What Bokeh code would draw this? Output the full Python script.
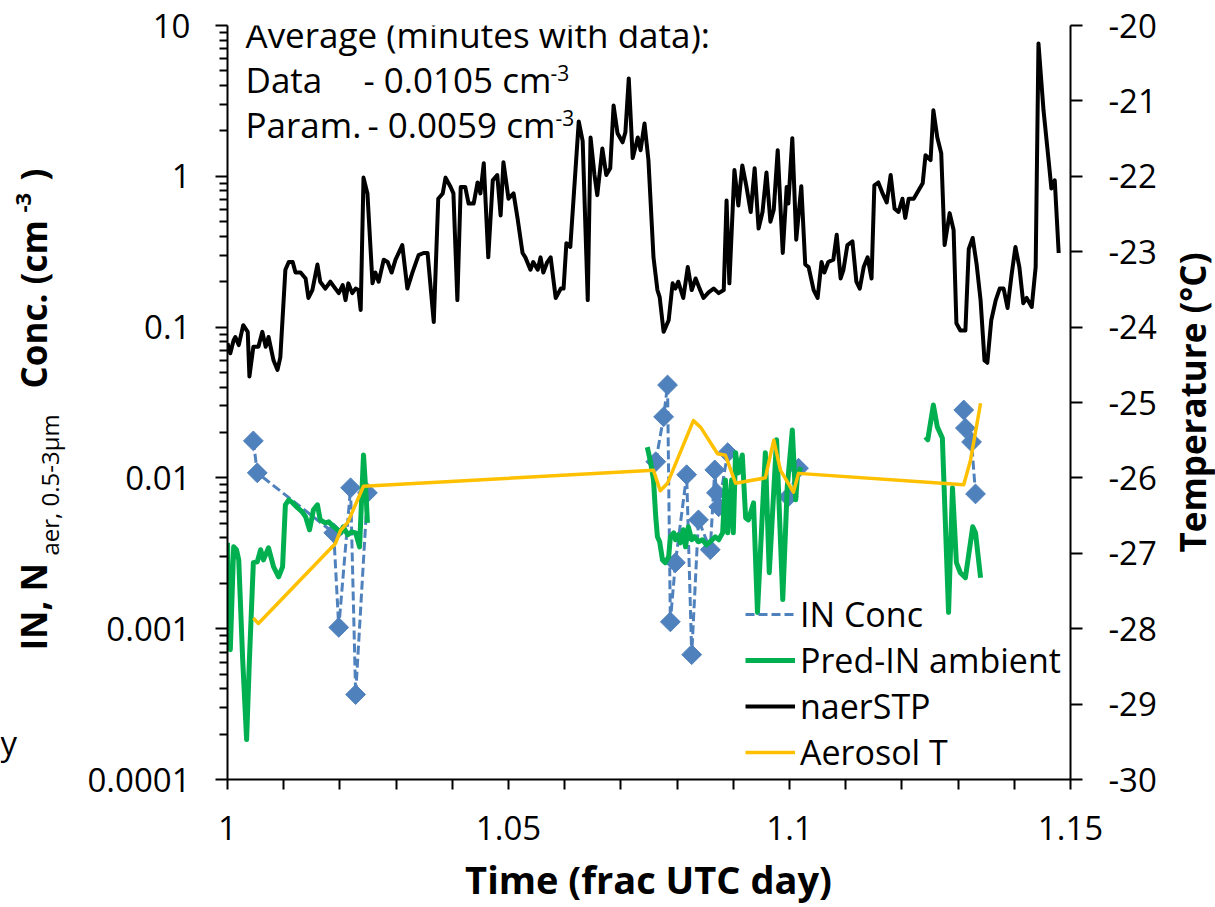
import math
from bokeh.plotting import figure
from bokeh.layouts import row, column
from bokeh.models import (Range1d, LinearAxis, LinearScale, FixedTicker, CustomJSTickFormatter,
                          Label, Legend, LegendItem)
from bokeh.embed import file_html
from bokeh.resources import INLINE

NAN = float("nan")

# ---------------- data ----------------
naer_time = [
    1.0000, 1.0005, 1.0011, 1.0014, 1.0020, 1.0028, 1.0036, 1.0039, 1.0046, 1.0055,
    1.0062, 1.0068, 1.0073, 1.0082, 1.0089, 1.0094, 1.0103, 1.0109, 1.0116, 1.0121,
    1.0130, 1.0139, 1.0144, 1.0151, 1.0160, 1.0165, 1.0174, 1.0183, 1.0192, 1.0198,
    1.0205, 1.0210, 1.0215, 1.0222, 1.0228, 1.0233, 1.0237, 1.0242, 1.0249, 1.0258,
    1.0263, 1.0269, 1.0278, 1.0285, 1.0292, 1.0299, 1.0311, 1.0320, 1.0329, 1.0340,
    1.0349, 1.0356, 1.0367, 1.0375, 1.0383, 1.0388, 1.0397, 1.0402, 1.0409, 1.0415,
    1.0423, 1.0429, 1.0438, 1.0445, 1.0450, 1.0456, 1.0464, 1.0472, 1.0480, 1.0486,
    1.0491, 1.0500, 1.0509, 1.0516, 1.0525, 1.0530, 1.0539, 1.0544, 1.0552, 1.0557,
    1.0562, 1.0569, 1.0575, 1.0584, 1.0593, 1.0598, 1.0603, 1.0610, 1.0625, 1.0632,
    1.0641, 1.0646, 1.0653, 1.0658, 1.0667, 1.0674, 1.0681, 1.0687, 1.0694, 1.0703,
    1.0708, 1.0714, 1.0721, 1.0730, 1.0735, 1.0742, 1.0749, 1.0758, 1.0765, 1.0769,
    1.0776, 1.0785, 1.0792, 1.0797, 1.0802, 1.0811, 1.0819, 1.0826, 1.0833, 1.0840,
    1.0847, 1.0856, 1.0865, 1.0874, 1.0883, 1.0888, 1.0893, 1.0902, 1.0909, 1.0916,
    1.0923, 1.0931, 1.0938, 1.0945, 1.0952, 1.0959, 1.0966, 1.0972, 1.0979, 1.0988,
    1.0995, 1.0998, 1.1005, 1.1012, 1.1021, 1.1028, 1.1034, 1.1043, 1.1050, 1.1057,
    1.1062, 1.1069, 1.1078, 1.1084, 1.1091, 1.1096, 1.1103, 1.1112, 1.1119, 1.1125,
    1.1132, 1.1139, 1.1146, 1.1151, 1.1158, 1.1165, 1.1173, 1.1180, 1.1187, 1.1194,
    1.1201, 1.1206, 1.1212, 1.1221, 1.1230, 1.1237, 1.1242, 1.1251, 1.1256, 1.1263,
    1.1270, 1.1276, 1.1285, 1.1292, 1.1297, 1.1304, 1.1313, 1.1319, 1.1326, 1.1333,
    1.1340, 1.1347, 1.1352, 1.1359, 1.1367, 1.1374, 1.1381, 1.1388, 1.1395, 1.1402,
    1.1409, 1.1416, 1.1422, 1.1431, 1.1438, 1.1443, 1.1452, 1.1461, 1.1466, 1.1472, 1.1479,
]
naer_conc = [
    0.078, 0.067, 0.082, 0.086, 0.076, 0.103, 0.093, 0.047, 0.074, 0.074,
    0.093, 0.074, 0.086, 0.060, 0.052, 0.063, 0.24, 0.27, 0.27, 0.23,
    0.23, 0.21, 0.156, 0.176, 0.26, 0.20, 0.18, 0.20, 0.18, 0.168,
    0.19, 0.151, 0.195, 0.168, 0.18, 0.176, 0.130, 0.98, 0.77, 0.195,
    0.23, 0.20, 0.28, 0.27, 0.23, 0.28, 0.35, 0.18, 0.23, 0.30,
    0.31, 0.31, 0.108, 0.71, 0.77, 0.98, 0.85, 0.77, 0.151, 0.85,
    0.85, 0.66, 0.66, 0.91, 0.77, 1.22, 0.29, 0.94, 1.02, 0.55,
    1.24, 0.71, 0.77, 0.53, 0.31, 0.29, 0.24, 0.27, 0.24, 0.29,
    0.23, 0.27, 0.29, 0.156, 0.18, 0.18, 0.36, 0.34, 2.31, 1.71,
    0.151, 1.81, 1.02, 0.75, 1.53, 1.02, 1.13, 2.95, 1.93, 1.68,
    1.96, 4.46, 1.32, 1.81, 1.49, 2.24, 1.28, 0.29, 0.176, 0.158,
    0.093, 0.111, 0.195, 0.18, 0.20, 0.156, 0.25, 0.176, 0.21, 0.18,
    0.156, 0.17, 0.18, 0.168, 0.176, 0.69, 0.195, 1.10, 0.64, 1.18,
    0.87, 0.58, 1.13, 0.45, 0.58, 1.06, 0.50, 0.60, 1.49, 0.31,
    0.85, 0.66, 1.79, 0.38, 0.86, 0.26, 0.25, 0.176, 0.156, 0.27,
    0.23, 0.27, 0.28, 0.41, 0.21, 0.24, 0.35, 0.37, 0.20, 0.18,
    0.25, 0.29, 0.21, 0.87, 0.91, 0.78, 0.67, 1.02, 0.61, 0.58,
    0.71, 0.53, 0.71, 0.71, 0.81, 0.90, 1.38, 1.28, 2.74, 1.81,
    1.42, 0.35, 0.57, 0.44, 0.106, 0.095, 0.095, 0.33, 0.39, 0.26,
    0.151, 0.060, 0.058, 0.111, 0.151, 0.18, 0.18, 0.134, 0.22, 0.34,
    0.25, 0.144, 0.156, 0.136, 0.25, 7.60, 2.74, 1.28, 0.83, 0.94, 0.31,
]

pred_time = [
    1.0000, 1.0005, 1.0011, 1.0016, 1.0020, 1.0027, 1.0034, 1.0039, 1.0046, 1.0053,
    1.0059, 1.0064, 1.0073, 1.0082, 1.0091, 1.0098, 1.0103, 1.0109, 1.0116, 1.0125,
    1.0133, 1.0139, 1.0146, 1.0153, 1.0160, 1.0165, 1.0174, 1.0180, 1.0189, 1.0196,
    1.0201, 1.0206, 1.0214, 1.0221, 1.0228, 1.0235, 1.0242, 1.0247, 1.0249,
    NAN,
    1.0747, 1.0753, 1.0758, 1.0762, 1.0765, 1.0769, 1.0774, 1.0779, 1.0785, 1.0788,
    1.0794, 1.0797, 1.0802, 1.0806, 1.0811, 1.0815, 1.0820, 1.0826, 1.0831, 1.0838,
    1.0845, 1.0852, 1.0859, 1.0868, 1.0874, 1.0881, 1.0886, 1.0890, 1.0897, 1.0900,
    1.0904, 1.0909, 1.0916, 1.0922, 1.0927, 1.0936, 1.0943, 1.0957, 1.0964, 1.0977,
    1.0988, 1.0996, 1.1005, 1.1011, 1.1014, 1.1020,
    NAN,
    1.1242, 1.1246, 1.1256, 1.1263, 1.1272, 1.1283, 1.1290, 1.1297, 1.1304, 1.1313,
    1.1326, 1.1331, 1.1340,
]
pred_conc = [
    0.00371, 0.000726, 0.00349, 0.00334, 0.00286, 0.000623, 0.000184, 0.000623, 0.00274, 0.00278,
    0.00334, 0.00286, 0.00344, 0.00257, 0.00221, 0.00257, 0.00663, 0.00715, 0.00683, 0.00633,
    0.00595, 0.00552, 0.00453, 0.00614, 0.00663, 0.00527, 0.00503, 0.00511, 0.00474, 0.00453,
    0.00432, 0.00474, 0.00419, 0.00439, 0.00432, 0.00349, 0.0142, 0.00715, 0.00503,
    NAN,
    0.0160, 0.0126, 0.0097, 0.00552, 0.00407, 0.00377, 0.00286, 0.00274, 0.00300, 0.00407,
    0.00432, 0.00389, 0.00419, 0.00371, 0.00453, 0.00349, 0.00474, 0.00389, 0.00407, 0.00377,
    0.00389, 0.00360, 0.00377, 0.00407, 0.00389, 0.00432, 0.0097, 0.00432, 0.0097, 0.00432,
    0.0147, 0.0108, 0.0142, 0.00543, 0.00527, 0.00683, 0.00128, 0.0147, 0.00235, 0.0179,
    0.00156, 0.0087, 0.0208, 0.00715, 0.0102, 0.0118,
    NAN,
    0.0187, 0.0179, 0.0304, 0.0218, 0.0184, 0.00128, 0.0086, 0.00274, 0.00235, 0.00218,
    0.00474, 0.00432, 0.00218,
]

in_time = [1.0046, 1.0053, 1.0189, 1.0198, 1.0219, 1.0228, 1.0249, NAN,
           1.0762, 1.0776, 1.0783, 1.0788, 1.0797, 1.0817, 1.0826, 1.0838, 1.0859,
           1.0867, 1.0870, 1.0874, 1.0890, NAN,
           1.0998, 1.1016, NAN,
           1.1310, 1.1313, 1.1324, 1.1331]
in_conc = [0.0176, 0.0108, 0.00432, 0.00102, 0.0086, 0.000366, 0.00796, NAN,
           0.0128, 0.0254, 0.0413, 0.00111, 0.00274, 0.0105, 0.000673, 0.00527, 0.00334,
           0.0113, 0.00796, 0.00643, 0.0147, NAN,
           0.00748, 0.0116, NAN,
           0.0282, 0.0214, 0.0173, 0.00783]

aer_time = [1.0046, 1.0055, 1.0192, 1.0201, 1.0214, 1.0242, 1.0758, 1.0770, 1.0783, 1.0829,
            1.0842, 1.0872, 1.0886, 1.0904, 1.0957, 1.0972, 1.0984, 1.1007, 1.1016, 1.1310,
            1.1322, 1.1340]
aer_temp = [-27.86, -27.93, -26.87, -26.70, -26.59, -26.11, -25.90, -26.17, -26.07, -25.24,
            -25.33, -25.68, -25.70, -26.07, -26.00, -25.50, -25.90, -26.19, -25.94, -26.09,
            -25.77, -25.01]

x_major = [1.0, 1.05, 1.1, 1.15]
x_minor = [1.01, 1.02, 1.03, 1.04, 1.06, 1.07, 1.08, 1.09, 1.11, 1.12, 1.13, 1.14]
y_major = [0.0001, 0.001, 0.01, 0.1, 1, 10]
y_minor = [k * 10.0 ** e for e in range(-4, 1) for k in range(2, 10)]
t_major = [-30, -29, -28, -27, -26, -25, -24, -23, -22, -21, -20]

legend_labels = ["IN Conc", "Pred-IN ambient", "naerSTP", "Aerosol T"]

# ---------------- style / layout ----------------
FONT = "Open Sans"
BLUE = "#4F81BD"
GREEN = "#00B050"
ORANGE = "#FFC000"
W, H = 1215, 907
LEFT_W, RIGHT_W, BOTTOM_H = 70, 55, 45        # text strips around the main chart
MAIN_W = W - LEFT_W - RIGHT_W
MAIN_H = H - BOTTOM_H
FL, FR, FT, FB = 227, 1070, 25, 779           # frame edges on the page


def clean(fig):
    fig.outline_line_color = None
    fig.xgrid.visible = False
    fig.ygrid.visible = False
    fig.background_fill_color = "white"
    fig.border_fill_color = "white"


def side_strip(w, x0):
    # same vertical borders as the main chart, so the frames line up in the row
    s = figure(width=w, height=MAIN_H, x_range=Range1d(x0, x0 + w), y_range=Range1d(FB, FT),
               x_axis_location=None, y_axis_location=None, toolbar_location=None,
               output_backend="svg", min_border=0, min_border_left=0, min_border_right=0,
               min_border_top=FT, min_border_bottom=MAIN_H - FB)
    clean(s)
    return s


def put(fig, s, px, py, size, bold=False, angle=0.0, align="left"):
    fig.add_layout(Label(x=px, y=py, text=s, text_font=FONT, text_font_size=f"{size}px",
                         text_font_style="bold" if bold else "normal", text_color="black",
                         angle=angle, text_align=align, text_baseline="middle"))


p = figure(width=MAIN_W, height=MAIN_H, x_range=Range1d(1.0, 1.15), y_range=Range1d(1e-4, 10),
           y_axis_type="log", output_backend="svg", toolbar_location=None,
           min_border_left=FL - LEFT_W, min_border_right=LEFT_W + MAIN_W - FR,
           min_border_top=FT, min_border_bottom=MAIN_H - FB)
clean(p)
p.extra_y_ranges = {"temp": Range1d(-30, -20)}
p.extra_y_scales = {"temp": LinearScale()}


def style_axis(ax, tick_out, minor_out, standoff):
    ax.axis_line_color = "black"
    ax.axis_line_width = 2
    ax.major_tick_line_color = "black"
    ax.major_tick_line_width = 2
    ax.minor_tick_line_color = "black"
    ax.minor_tick_line_width = 2
    ax.major_tick_in = 0
    ax.major_tick_out = tick_out
    ax.minor_tick_in = 0
    ax.minor_tick_out = minor_out
    ax.major_label_text_font = FONT
    ax.major_label_text_font_size = "33px"
    ax.major_label_text_color = "black"
    ax.major_label_standoff = standoff
    ax.formatter = CustomJSTickFormatter(code="return tick.toString();")


xa = p.xaxis[0]
xa.ticker = FixedTicker(ticks=x_major, minor_ticks=x_minor)
style_axis(xa, 10, 10, 26)

ya = p.yaxis[0]
ya.ticker = FixedTicker(ticks=y_major, minor_ticks=y_minor)
style_axis(ya, 12, 8, 25)

ra = LinearAxis(y_range_name="temp", ticker=FixedTicker(ticks=t_major))
style_axis(ra, 12, 0, 26)
ra.minor_tick_line_color = None
p.add_layout(ra, "right")

# ---------------- series ----------------
r_in_line = p.line(in_time, in_conc, line_color=BLUE, line_width=3, line_dash="9 4")
r_in_pts = p.scatter(in_time, in_conc, marker="square", size=14, angle=math.pi / 4,
                     fill_color=BLUE, line_color=BLUE)
r_in_key = p.scatter(x=[], y=[], marker="diamond", fill_color=BLUE, line_color=BLUE)
r_pred = p.line(pred_time, pred_conc, line_color=GREEN, line_width=5, line_join="round")
r_naer = p.line(naer_time, naer_conc, line_color="black", line_width=4, line_join="round")
r_aer = p.line(aer_time, aer_temp, line_color=ORANGE, line_width=3.5, line_join="round",
               y_range_name="temp")

legend = Legend(items=[
    LegendItem(label=legend_labels[0], renderers=[r_in_line, r_in_key]),
    LegendItem(label=legend_labels[1], renderers=[r_pred]),
    LegendItem(label=legend_labels[2], renderers=[r_naer]),
    LegendItem(label=legend_labels[3], renderers=[r_aer]),
], location=(518, 4), orientation="vertical", background_fill_alpha=0,
   border_line_alpha=0, label_text_font=FONT, label_text_font_size="34px",
   label_text_color="black", glyph_width=50, glyph_height=46, label_height=46,
   label_standoff=5, spacing=0, padding=0, margin=0)
p.add_layout(legend)

# ---------------- texts inside the frame (centres of the text lines) ----------------
def txt(s, px, py, size, bold=False):
    p.add_layout(Label(x=px - FL, y=FB - py, x_units="screen", y_units="screen",
                       text=s, text_font=FONT, text_font_size=f"{size}px",
                       text_font_style="bold" if bold else "normal",
                       text_color="black", text_align="left", text_baseline="middle"))

txt("Average (minutes with data):", 245, 34, 35)
txt("Data", 245, 79, 35)
txt("- 0.0105 cm", 363, 79, 35)
txt("-3", 550, 72, 21)
txt("Param.", 245, 124, 35)
txt("- 0.0059 cm", 367, 124, 35)
txt("-3", 555, 117, 21)

# ---------------- texts outside the frame (own strips) ----------------
V = math.pi / 2
left = side_strip(LEFT_W, 0)
put(left, "IN, N", 33, 650, 35, bold=True, angle=V)
put(left, "aer, 0.5-3μm", 49, 555, 24, angle=V)
put(left, "Conc. (cm", 33, 388, 35, bold=True, angle=V)
put(left, "-3", 23, 212, 22, bold=True, angle=V)
put(left, ")", 33, 180, 35, bold=True, angle=V)
put(left, "y", 0, 742, 33)

right = side_strip(RIGHT_W, LEFT_W + MAIN_W)
put(right, "Temperature (°C)", 1192, 402, 35, bold=True, angle=V, align="center")

bottom = figure(width=W, height=BOTTOM_H, x_range=Range1d(0, W), y_range=Range1d(H, MAIN_H),
                x_axis_location=None, y_axis_location=None, toolbar_location=None,
                output_backend="svg", min_border=0, min_border_left=0, min_border_right=0,
                min_border_top=0, min_border_bottom=0)
clean(bottom)
put(bottom, "Time (frac UTC day)", 648, 878, 38, bold=True, align="center")

page = column(row(left, p, right, spacing=0), bottom, spacing=0)
open("out.html", "w").write(file_html(page, INLINE))
